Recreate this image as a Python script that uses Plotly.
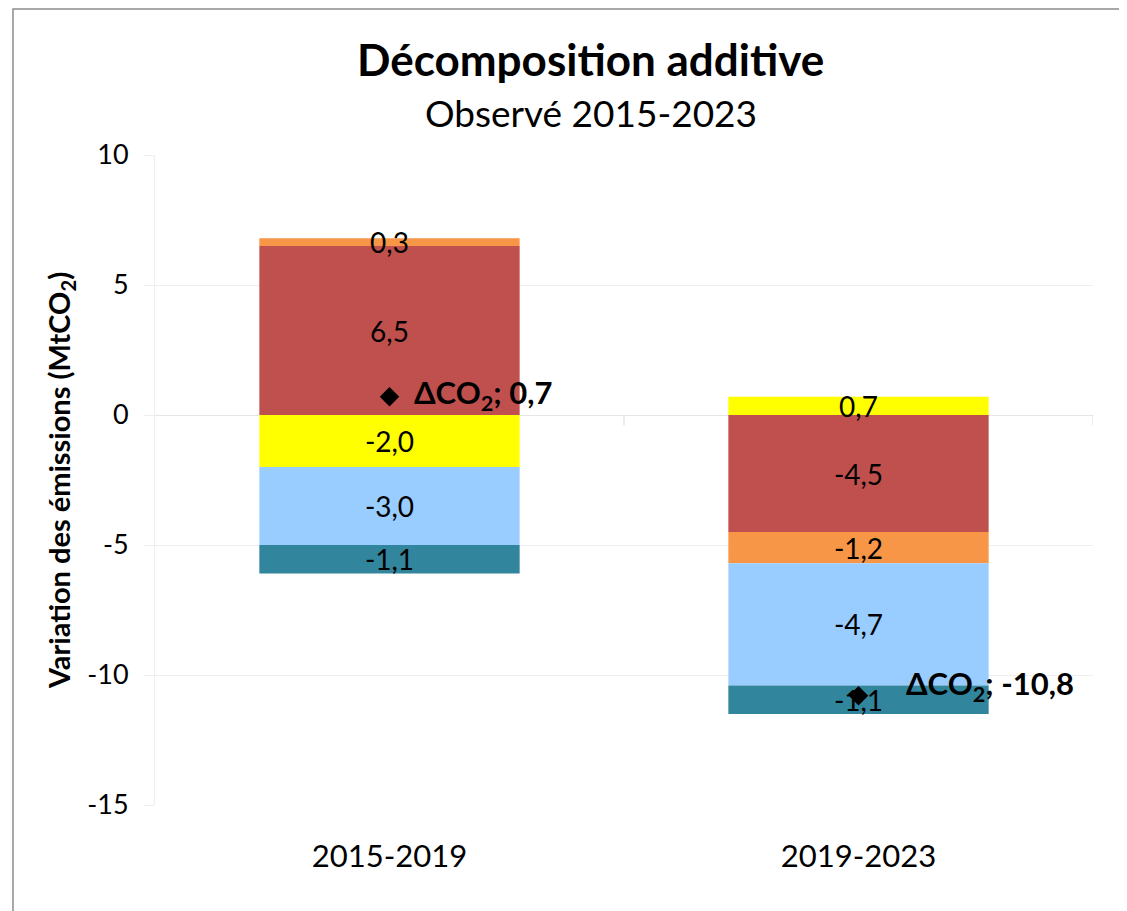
import plotly.graph_objects as go

categories = ["2015-2019", "2019-2023"]
series_names = ["Composante 1", "Composante 2", "Composante 3", "Composante 4", "Composante 5"]
series_values = [
    [6.5, -4.5],   # red
    [0.3, -1.2],   # orange
    [-2.0, 0.7],   # yellow
    [-3.0, -4.7],  # light blue
    [-1.1, -1.1],  # teal
]
series_colors = ["#C0504D", "#F79646", "#FFFF00", "#99CCFF", "#31859C"]
total_values = [0.7, -10.8]
ytick_vals = [10, 5, 0, -5, -10, -15]

FONT = "Lato"

def fmt(v):
    return f"{v:.1f}".replace(".", ",")

fig = go.Figure()
for name, vals, col in zip(series_names, series_values, series_colors):
    fig.add_trace(go.Bar(
        x=categories, y=vals, name=name,
        marker=dict(color=col, line=dict(width=0)),
        width=0.555,
        text=[fmt(v) for v in vals],
        textposition="inside", insidetextanchor="middle",
        constraintext="none",
        textfont=dict(family=FONT, size=28, color="black"),
        showlegend=False, hoverinfo="skip",
    ))

fig.add_trace(go.Scatter(
    x=categories, y=total_values, mode="markers",
    marker=dict(symbol="diamond", size=15, color="black"),
    showlegend=False, hoverinfo="skip",
))

shifts = [(22, 2), (45, 10)]
for c, v, (dx, dy) in zip(categories, total_values, shifts):
    fig.add_annotation(
        x=c, y=v, xref="x", yref="y",
        text=f"<b>ΔCO<sub>2</sub>; {fmt(v)}</b>",
        showarrow=False, xanchor="left", yanchor="middle",
        xshift=dx, yshift=dy,
        font=dict(family=FONT, size=31, color="black"),
    )

# axis ticks at zero line (category boundaries)
for xb in [0.5, 1.5]:
    fig.add_shape(type="line", xref="x", yref="y", x0=xb, x1=xb, y0=0, y1=-0.4,
                  line=dict(color="#D9D9D9", width=1))

# outer chart border
fig.add_shape(type="rect", xref="paper", yref="paper",
              x0=-0.1514, x1=1.3, y0=-0.5, y1=1.2246,
              line=dict(color="#8C8C8C", width=1.5), layer="above")

fig.add_annotation(text="<b>Décomposition additive</b>", xref="paper", yref="paper",
                   x=0.4648, y=1.148, showarrow=False, xanchor="center", yanchor="middle",
                   font=dict(family=FONT, size=44, color="black"))
fig.add_annotation(text="Observé 2015-2023", xref="paper", yref="paper",
                   x=0.4648, y=1.066, showarrow=False, xanchor="center", yanchor="middle",
                   font=dict(family=FONT, size=37, color="black"))

fig.update_layout(
    width=1119, height=903,
    barmode="relative",
    bargap=0.445,
    margin=dict(l=147, r=34, t=147, b=106),
    paper_bgcolor="white", plot_bgcolor="white",
    font=dict(family=FONT, color="black"),
    xaxis=dict(
        type="category", range=[-0.5, 1.5],
        showgrid=False, showline=False, zeroline=False,
        ticks="", tickfont=dict(family=FONT, size=31, color="black"),
        ticklabelstandoff=30,
    ),
    yaxis=dict(
        range=[-15, 10],
        tickvals=ytick_vals, ticktext=[str(v) for v in ytick_vals],
        showgrid=True, gridcolor="#EFEFEF", gridwidth=1,
        zeroline=True, zerolinecolor="#E6E6E6", zerolinewidth=1,
        showline=True, linecolor="#EFEFEF", linewidth=1,
        ticks="outside", ticklen=10, tickcolor="#EFEFEF",
        tickfont=dict(family=FONT, size=27, color="black"),
        ticklabelstandoff=10,
        title=dict(text="<b>Variation des émissions (MtCO<sub>2</sub>)</b>",
                   font=dict(family=FONT, size=29, color="black"), standoff=8),
    ),
)

fig.write_html("out.html")
